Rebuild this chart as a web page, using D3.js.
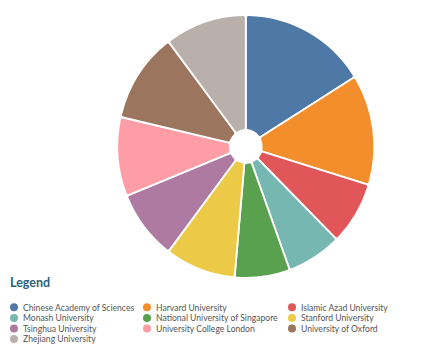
<!DOCTYPE html>
<html><head><meta charset="utf-8">
<script src="https://cdn.jsdelivr.net/npm/d3@7"></script>
<style>html,body{margin:0;padding:0;background:#fff;}svg{display:block;}</style>
</head><body>
<svg id="chart" width="425" height="356"></svg>
<script>
const categories = ["Chinese Academy of Sciences","Harvard University","Islamic Azad University","Monash University","National University of Singapore","Stanford University","Tsinghua University","University College London","University of Oxford","Zhejiang University"];
const values = [58, 49, 28, 25, 25, 32, 31, 35, 40, 37];
const colors = ["#4e79a7","#f28e2b","#e15759","#76b7b2","#59a14f","#edc948","#af7aa1","#ff9da7","#9c755f","#bab0ab"];

const svg = d3.select("#chart");
const data = categories.map((c,i)=>({name:c, value:values[i]}));
const color = d3.scaleOrdinal().domain(categories).range(colors);

const cx = 245.8, cy = 146.5, r = 128.5;
const pie = d3.pie().value(d=>d.value).sort(null);
const arc = d3.arc().innerRadius(16).outerRadius(r).cornerRadius(2.5);
const g = svg.append("g").attr("transform",`translate(${cx},${cy}) scale(1,1.023)`);
g.selectAll("path").data(pie(data)).join("path")
  .attr("d", arc).attr("fill", d=>color(d.data.name))
  .attr("stroke","#fff").attr("stroke-width",1.8).attr("stroke-linejoin","round");

svg.append("text").attr("x",10).attr("y",287).text("Legend")
  .attr("font-family","Lato, sans-serif").attr("font-weight","bold").attr("font-size",12.5).attr("fill","#2b5f80");

const colX = [14, 147, 292];
const rowY0 = 307.3, rowH = 10.6;
const lg = svg.append("g");
const items = lg.selectAll("g").data(categories).join("g")
  .attr("transform",(d,i)=>`translate(${colX[i%3]},${rowY0 + Math.floor(i/3)*rowH})`);
items.append("circle").attr("r",4).attr("fill",d=>color(d));
items.append("text").attr("x",9).attr("y",3.2).text(d=>d)
  .attr("font-family","Lato, sans-serif").attr("font-size",8.6).attr("fill","#555");
</script>
</body></html>
